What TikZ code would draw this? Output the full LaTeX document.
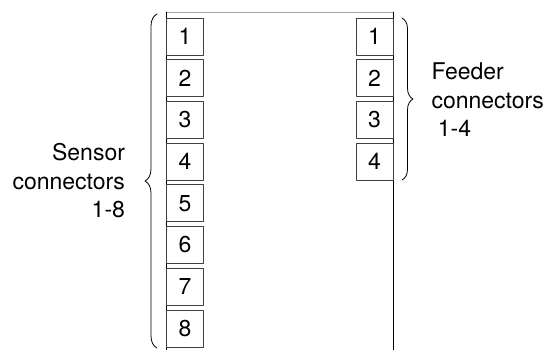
\documentclass[tikz,border=0pt]{standalone}
\usepackage{fontspec}
\setmainfont{TeX Gyre Heros}
\usetikzlibrary{decorations.pathreplacing}
\begin{document}
\begin{tikzpicture}[x=1pt, y=-1pt, line join=round, line cap=round,
    font=\fontsize{23}{28.5}\selectfont,
    conn/.style={draw=black!75, line width=0.8pt, minimum width=37pt, minimum height=37pt, inner sep=0pt},
    brc/.style={decorate, decoration={brace, amplitude=#1}, line width=0.8pt}]
  \useasboundingbox (0,0) rectangle (549,350);
  % board
  \draw[black!35, line width=0.8pt] (166,12) -- (393,12);
  \draw[line width=0.9pt] (166,12) -- (166,350);
  \draw[line width=0.9pt] (393,12) -- (393,350);
  % sensor connectors
  \node[conn] (s1) at (185,36.5) {1};
  \node[conn] (s2) at (185,78.2) {2};
  \node[conn] (s3) at (185,119.9) {3};
  \node[conn] (s4) at (185,161.6) {4};
  \node[conn] (s5) at (185,203.3) {5};
  \node[conn] (s6) at (185,245.0) {6};
  \node[conn] (s7) at (185,286.7) {7};
  \node[conn] (s8) at (185,328.4) {8};
  % feeder connectors
  \node[conn] (f1) at (374.5,36.5) {1};
  \node[conn] (f2) at (374.5,78.2) {2};
  \node[conn] (f3) at (374.5,119.9) {3};
  \node[conn] (f4) at (374.5,161.6) {4};
  % braces
  \coordinate (sb) at (157,348);
  \coordinate (st) at (157,14);
  \coordinate (ft) at (402,18);
  \coordinate (fb) at (402,180);
  \draw[brc=12pt] (sb) -- (st);
  \draw[brc=11pt] (ft) -- (fb);
  \node[anchor=east, align=right] (sensor) at (128.5,181) {Sensor\\connectors\\1-8};
  \node[anchor=west, align=left] (feeder) at (428,100) {Feeder\\connectors\\\ 1-4};
\end{tikzpicture}
\end{document}
